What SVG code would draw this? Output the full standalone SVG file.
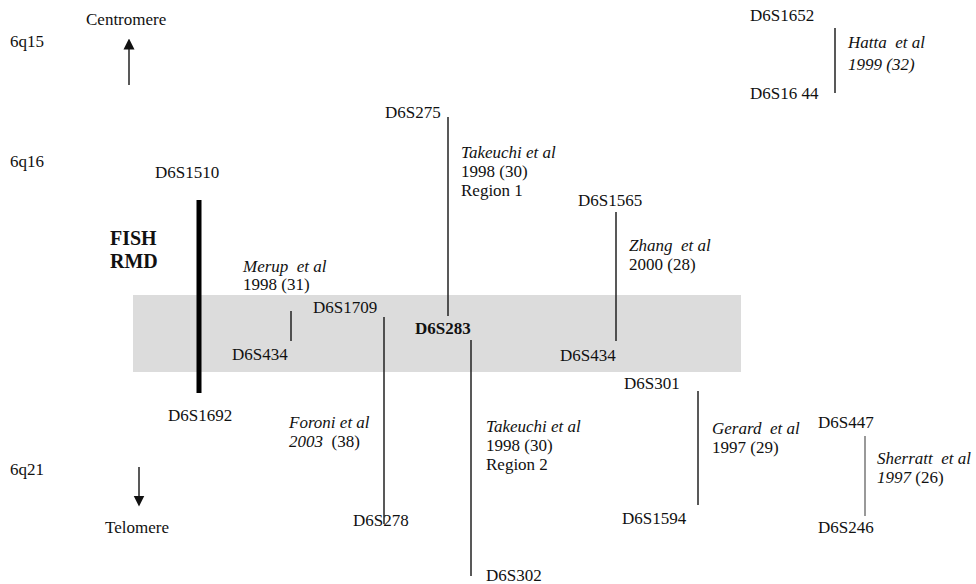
<svg xmlns="http://www.w3.org/2000/svg" width="976" height="584" viewBox="0 0 976 584">
<defs>
<style>
text{font-family:"Liberation Serif","Times New Roman",serif;font-size:17px;fill:#111;white-space:pre}
.i{font-style:italic}
.b{font-weight:bold}
.ln{stroke:#222;stroke-width:1.5;fill:none}
.lg{stroke:#777;stroke-width:1.5;fill:none}
</style>
<marker id="ah" viewBox="0 0 10 10" refX="5" refY="5" markerWidth="11" markerHeight="12" orient="auto-start-reverse" markerUnits="userSpaceOnUse"><path d="M0,0 L10,5 L0,10 z" fill="#111"/></marker>
</defs>
<rect id="band" x="133" y="295" width="608" height="77" fill="#dcdcdc"/>
<g id="labels">
<text x="86" y="25">Centromere</text>
<text x="10" y="47">6q15</text>
<text x="10" y="167">6q16</text>
<text x="10" y="475">6q21</text>
<text x="105" y="533">Telomere</text>
</g>
<g id="connectors">
<line class="ln" x1="129" y1="85" x2="129" y2="44" marker-end="url(#ah)" stroke-width="2"/>
<line class="ln" x1="139" y1="467" x2="139" y2="501" marker-end="url(#ah)" stroke-width="2"/>
<line x1="199" y1="200" x2="199" y2="393" stroke="#000" stroke-width="5"/>
<line class="ln" x1="291" y1="311" x2="291" y2="341"/>
<line class="ln" x1="384" y1="317" x2="384" y2="524"/>
<line class="ln" x1="448" y1="117" x2="448" y2="316"/>
<line class="ln" x1="471" y1="340" x2="471" y2="576"/>
<line class="ln" x1="616" y1="212" x2="616" y2="341"/>
<line class="ln" x1="698" y1="391" x2="698" y2="505"/>
<line class="lg" x1="865" y1="436" x2="865" y2="516"/>
<line class="ln" x1="835" y1="28" x2="835" y2="93"/>
</g>
<g id="fish">
<text x="155" y="178">D6S1510</text>
<text class="b" x="110" y="245" style="font-size:20px">FISH</text>
<text class="b" x="110" y="268" style="font-size:20px">RMD</text>
<text x="168" y="421">D6S1692</text>
</g>
<g id="merup">
<text class="i" x="243" y="272">Merup  et al</text>
<text x="243" y="290">1998 (31)</text>
<text x="232" y="360">D6S434</text>
</g>
<g id="foroni">
<text x="313" y="313">D6S1709</text>
<text class="i" x="289" y="428">Foroni et al</text>
<text x="289" y="447"><tspan class="i">2003</tspan>  (38)</text>
<text x="353" y="526">D6S278</text>
</g>
<g id="takeuchi1">
<text x="385" y="118">D6S275</text>
<text class="i" x="461" y="158">Takeuchi et al</text>
<text x="461" y="177">1998 (30)</text>
<text x="461" y="196">Region 1</text>
<text class="b" x="415" y="334">D6S283</text>
</g>
<g id="takeuchi2">
<text class="i" x="486" y="432">Takeuchi et al</text>
<text x="486" y="451">1998 (30)</text>
<text x="486" y="470">Region 2</text>
<text x="486" y="581">D6S302</text>
</g>
<g id="zhang">
<text x="578" y="206">D6S1565</text>
<text class="i" x="629" y="251">Zhang  et al</text>
<text x="629" y="270">2000 (28)</text>
<text x="560" y="361">D6S434</text>
</g>
<g id="gerard">
<text x="624" y="389">D6S301</text>
<text class="i" x="712" y="434">Gerard  et al</text>
<text x="712" y="453">1997 (29)</text>
<text x="622" y="524">D6S1594</text>
</g>
<g id="sherratt">
<text x="818" y="428">D6S447</text>
<text class="i" x="877" y="464">Sherratt  et al</text>
<text x="877" y="483"><tspan class="i">1997</tspan> (26)</text>
<text x="818" y="533">D6S246</text>
</g>
<g id="hatta">
<text x="750" y="21">D6S1652</text>
<text class="i" x="848" y="48">Hatta  et al</text>
<text class="i" x="848" y="70">1999 (32)</text>
<text x="750" y="99">D6S16 44</text>
</g>
</svg>
